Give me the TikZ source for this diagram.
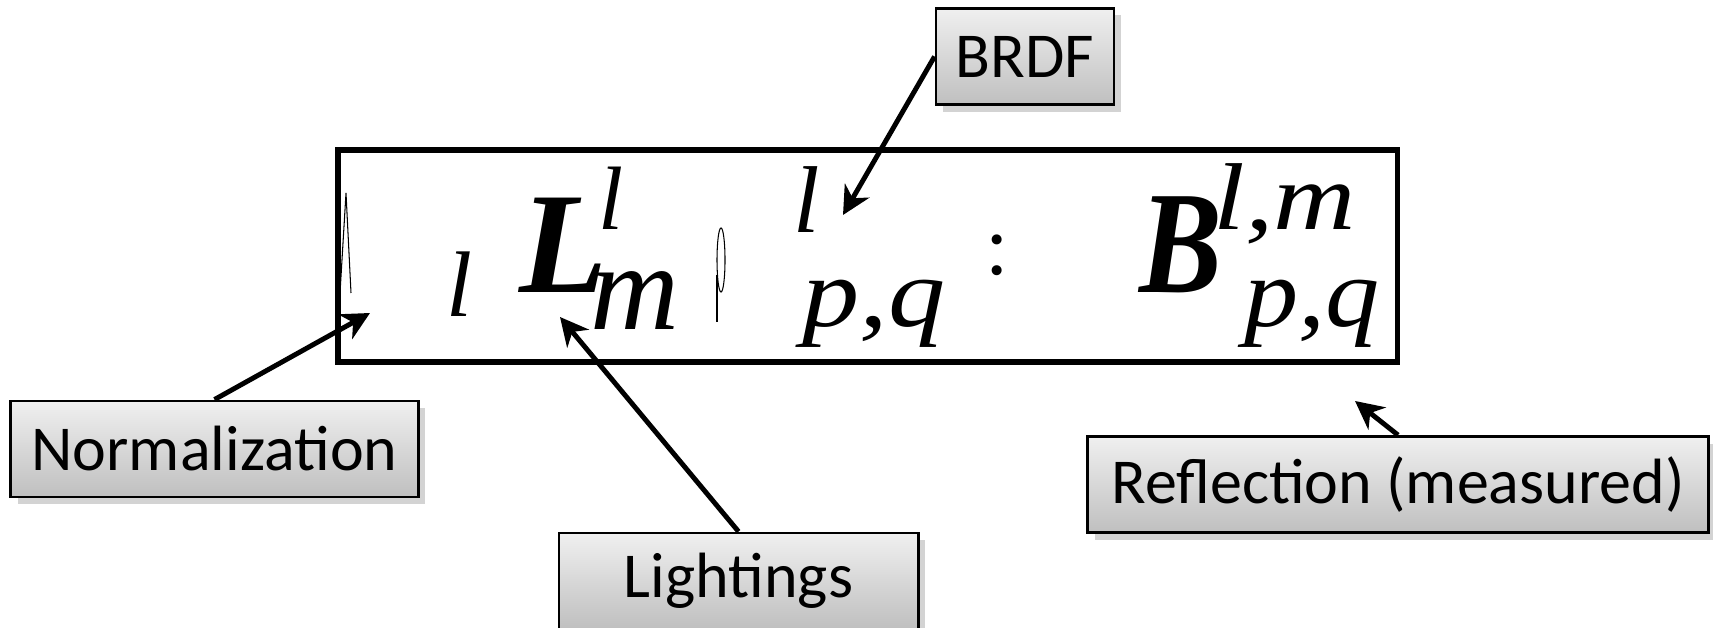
\documentclass[tikz,border=0pt]{standalone}
\usepackage{fontspec}
\usepackage{graphicx}
\setmainfont{Liberation Serif}
\newfontfamily\eqfont{Liberation Serif}
\newfontfamily\calib{Carlito}
\newcommand{\xwide}[2]{\scalebox{#1}[1]{#2}}
\usetikzlibrary{arrows.meta, shadows}
\tikzset{
    >={Stealth[length=8pt, width=8pt, inset=2.5pt]},
    % Label boxes
    tag/.style={rectangle, draw=black, line width=0.8pt, top color=gray!12, bottom color=gray!50,
                drop shadow={opacity=0.35, shadow xshift=2pt, shadow yshift=-2pt},
                minimum height=0.96cm, inner sep=0pt, font=\calib\fontsize{18.2}{20}\selectfont},
    % Formula symbols
    sym/.style={inner sep=0pt, anchor=base west, font=\eqfont\itshape\fontsize{#1}{#1}\selectfont},
    sym/.default=28,
    bigsym/.style={inner sep=0pt, anchor=base west, font=\eqfont\bfseries\itshape\fontsize{#1}{#1}\selectfont},
    % Pointers
    ptr/.style={->, line width=1.4pt}
}

\begin{document}
\begin{tikzpicture}[x=0.01cm, y=-0.01cm]
\useasboundingbox (0,0) rectangle (1713,628);

% formula frame
\node[draw, line width=1.6pt, minimum width=10.59cm, minimum height=2.12cm, inner sep=0pt] (frame) at (867.5,256) {};

\node[sym=26.5] (lsub) at (446,317) {l};
\node[bigsym=41] (Lbig) at (519,293) {L};
\node[sym=25.6] (Lsup) at (598,230) {l};
\node[sym=35] (Lsub) at (590,330) {m};
\node[sym=27] (rsup) at (793,233) {l};
\node[sym] (rsub) at (802,327) {\xwide{1.16}{p,q}};
\node[sym, font=\upshape\fontsize{24}{24}\selectfont] (colon) at (985,275) {:};
\node[bigsym=41.6] (Bbig) at (1139,293) {\xwide{0.85}{B}};
\node[sym=27] (Bsup) at (1213,230) {\xwide{1.2}{l,m}};
\node[sym] (Bsub) at (1244,327) {\xwide{1.1}{p,q}};

% broken glyphs
\draw[line width=0.3pt] (340,293) -- (346,193) -- (351,293);
\draw[line width=0.3pt] (721,260) ellipse [x radius=0.04cm, y radius=0.32cm];
\draw[line width=0.3pt] (717,275) -- (717,322);

% labels
\node[tag, minimum width=4.07cm] (norm) at (214.5,449) {Normalization};
\node[tag, minimum width=3.59cm] (light) at (738.5,581) {Lightings};
\node[tag, minimum width=1.78cm] (brdf) at (1025,56.5) {BRDF};
\node[tag, minimum width=6.20cm] (refl) at (1398,484.5) {Reflection (measured)};

\coordinate (normTip) at (370,313);
\coordinate (lightTip) at (560,317);
\coordinate (brdfTip) at (843,215);
\coordinate (reflTip) at (1355,401);

\draw[ptr] (norm.north) -- (normTip);
\draw[ptr] (light.north) -- (lightTip);
\draw[ptr] (brdf.west) -- (brdfTip);
\draw[ptr] (refl.north) -- (reflTip);

\end{tikzpicture}
\end{document}
